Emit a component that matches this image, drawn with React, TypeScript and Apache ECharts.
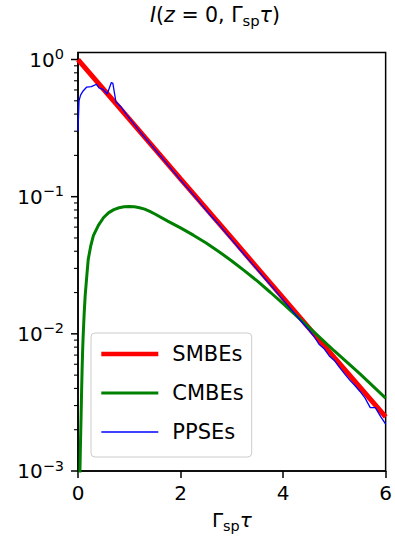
import React, { useEffect, useRef } from 'react';
import * as echarts from 'echarts';

// SMBEs (red)
const smbeX = [0, 1, 2, 3, 4, 5, 6];
const smbeY = [1, 0.368, 0.135, 0.0498, 0.0183, 0.0067, 0.00248];

// CMBEs (green)
const cmbeX = [0.03, 0.04, 0.05, 0.06, 0.07, 0.08, 0.09, 0.1, 0.12, 0.14, 0.17, 0.2, 0.25, 0.3, 0.4, 0.5, 0.6, 0.7, 0.8, 0.9, 1.0, 1.1, 1.2, 1.3, 1.4, 1.5, 1.75, 2.0, 2.25, 2.5, 2.75, 3.0, 3.25, 3.5, 3.75, 4.0, 4.5, 5.0, 5.5, 6.0];
const cmbeY = [0.0007, 0.0011, 0.0017, 0.0025, 0.0038, 0.0055, 0.0075, 0.0095, 0.014, 0.019, 0.026, 0.035, 0.044, 0.052, 0.062, 0.0705, 0.0765, 0.0805, 0.083, 0.0843, 0.0847, 0.0843, 0.083, 0.0811, 0.0782, 0.0748, 0.0664, 0.0592, 0.0524, 0.0459, 0.0397, 0.034, 0.0288, 0.0242, 0.0201, 0.0166, 0.0112, 0.0075, 0.0051, 0.0034];

// PPSEs (blue)
const ppseX = [0, 0.02, 0.05, 0.1, 0.17, 0.26, 0.36, 0.41, 0.49, 0.57, 0.65, 0.68, 0.74, 0.84, 0.95, 1.1, 1.25, 1.4, 1.55, 1.7, 1.85, 2.0, 2.15, 2.3, 2.45, 2.6, 2.75, 2.9, 3.05, 3.2, 3.35, 3.5, 3.65, 3.8, 3.95, 4.1, 4.25, 4.4, 4.5, 4.6, 4.7, 4.8, 4.9, 5.0, 5.1, 5.2, 5.3, 5.4, 5.5, 5.6, 5.7, 5.8, 5.9, 6.0];
const ppseY = [0.3, 0.5, 0.55, 0.59, 0.63, 0.635, 0.66, 0.62, 0.605, 0.56, 0.68, 0.67, 0.49, 0.45, 0.395, 0.335, 0.285, 0.245, 0.21, 0.18, 0.154, 0.132, 0.114, 0.098, 0.084, 0.072, 0.0625, 0.0535, 0.046, 0.0395, 0.034, 0.0293, 0.0252, 0.0217, 0.0186, 0.016, 0.0137, 0.0118, 0.0107, 0.0096, 0.0084, 0.0078, 0.0069, 0.0064, 0.0057, 0.0051, 0.0046, 0.0042, 0.0038, 0.0034, 0.0029, 0.0029, 0.0025, 0.0022];

const xTicks = [0, 2, 4, 6];
const yMajorTicks = [0.001, 0.01, 0.1, 1];
const yMinorTicks = [
  0.002, 0.003, 0.004, 0.005, 0.006, 0.007, 0.008, 0.009,
  0.02, 0.03, 0.04, 0.05, 0.06, 0.07, 0.08, 0.09,
  0.2, 0.3, 0.4, 0.5, 0.6, 0.7, 0.8, 0.9,
];

const seriesNames = ['SMBEs', 'CMBEs', 'PPSEs'];

const FONT = '"DejaVu Sans", sans-serif';
const zip = (xs: number[], ys: number[]) => xs.map((x, i) => [x, ys[i]]);

export default function App() {
  const ref = useRef<HTMLDivElement>(null);
  useEffect(() => {
    if (!ref.current) return;
    const chart = echarts.init(ref.current, null, { renderer: 'svg' });
    const tickRender = (len: number, lw: number) => (params: any, api: any) => {
      const p = api.coord([api.value(0), api.value(1)]);
      return {
        type: 'line',
        shape: { x1: p[0] - len, y1: p[1], x2: p[0], y2: p[1] },
        style: { stroke: '#000', lineWidth: lw },
      };
    };
    const mathRich = (fs: number) => ({
      i: { fontStyle: 'italic', fontSize: fs, fontFamily: FONT, color: '#000', lineHeight: 26 },
      n: { fontSize: fs, fontFamily: FONT, color: '#000', lineHeight: 26 },
      sub: { fontSize: fs * 0.72, fontFamily: FONT, color: '#000', lineHeight: 14, verticalAlign: 'bottom' },
    });
    const hiddenSymbol = { color: 'rgba(0,0,0,0)', opacity: 0, borderWidth: 0 };
    chart.setOption({
      animation: false,
      grid: {
        left: 78, top: 52.5, width: 313, height: 418.5,
        show: true, borderColor: '#000', borderWidth: 1.5, containLabel: false,
      },
      xAxis: {
        type: 'value', min: 0, max: 6, interval: 2,
        axisLine: { show: true, onZero: false, lineStyle: { color: '#000', width: 1.5 } },
        axisTick: { show: true, length: 7, lineStyle: { color: '#000', width: 1.5 } },
        splitLine: { show: false },
        axisLabel: {
          color: '#000', fontSize: 20, fontFamily: FONT, margin: 12,
          formatter: (v: number) => (xTicks.includes(v) ? String(v) : ''),
        },
        name: '{n|Γ}{sub|sp}{i|τ}',
        nameLocation: 'middle',
        nameGap: 36,
        nameTextStyle: { fontSize: 20, fontFamily: FONT, color: '#000', rich: mathRich(20) },
      },
      yAxis: {
        type: 'log', logBase: 10, min: 0.001, max: 1.125,
        axisLine: { show: true, lineStyle: { color: '#000', width: 1.5 } },
        axisTick: { show: false },
        minorTick: { show: false },
        splitLine: { show: false },
        axisLabel: {
          margin: 14,
          formatter: (v: number) => {
            const e = Math.log10(v);
            const r = Math.round(e);
            if (Math.abs(e - r) > 1e-6) return '';
            return `{b|10}{s|${r < 0 ? '\u2212' + -r : r}}`;
          },
          rich: {
            b: { fontSize: 20, fontFamily: FONT, color: '#000', lineHeight: 26 },
            s: { fontSize: 14.5, fontFamily: FONT, color: '#000', lineHeight: 14, verticalAlign: 'top' },
          },
        },
      },
      legend: {
        orient: 'vertical', left: 91, top: 333,
        data: [
          { name: seriesNames[0], lineStyle: { width: 4.6 }, itemStyle: hiddenSymbol },
          { name: seriesNames[1], lineStyle: { width: 3 }, itemStyle: hiddenSymbol },
          { name: seriesNames[2], lineStyle: { width: 1.3 }, itemStyle: hiddenSymbol },
        ],
        itemWidth: 57, itemHeight: 14, itemGap: 15,
        padding: [9, 8, 13, 8],
        backgroundColor: 'rgba(255,255,255,0.8)',
        borderColor: '#cccccc', borderWidth: 1, borderRadius: 4,
        selectedMode: false,
        textStyle: { fontSize: 21, fontFamily: FONT, color: '#000', lineHeight: 24, padding: [0, 0, 0, 9] },
      },
      graphic: [
        {
          type: 'text', x: 215, y: 15,
          style: {
            text: '{i|I}{n|(}{i|z}{n| = 0, Γ}{sub|sp}{i|τ}{n|)}',
            rich: mathRich(20.5),
            fontSize: 20.5, fontFamily: FONT, fill: '#000',
            align: 'center', verticalAlign: 'middle',
          },
        },
      ],
      series: [
        {
          name: seriesNames[0], type: 'line', data: zip(smbeX, smbeY), symbol: 'none',
          lineStyle: { color: '#ff0000', width: 5 }, itemStyle: { color: '#ff0000' }, z: 2,
        },
        {
          name: seriesNames[1], type: 'line', data: zip(cmbeX, cmbeY), symbol: 'none',
          lineStyle: { color: '#008000', width: 3 }, itemStyle: { color: '#008000' }, z: 3,
        },
        {
          name: seriesNames[2], type: 'line', data: zip(ppseX, ppseY), symbol: 'none',
          lineStyle: { color: '#0000ff', width: 1.3 }, itemStyle: { color: '#0000ff' }, z: 4,
        },
        {
          name: 'majorTicks', type: 'custom', silent: true, clip: false,
          data: yMajorTicks.map((v) => [0, v]),
          renderItem: tickRender(7, 1.5),
        },
        {
          name: 'minorTicks', type: 'custom', silent: true, clip: false,
          data: yMinorTicks.map((v) => [0, v]),
          renderItem: tickRender(4, 1.1),
        },
      ],
    });
    return () => chart.dispose();
  }, []);
  return (
    <div
      ref={ref}
      style={{ position: 'fixed', left: 0, top: 0, width: 395, height: 541, background: '#fff' }}
    />
  );
}
